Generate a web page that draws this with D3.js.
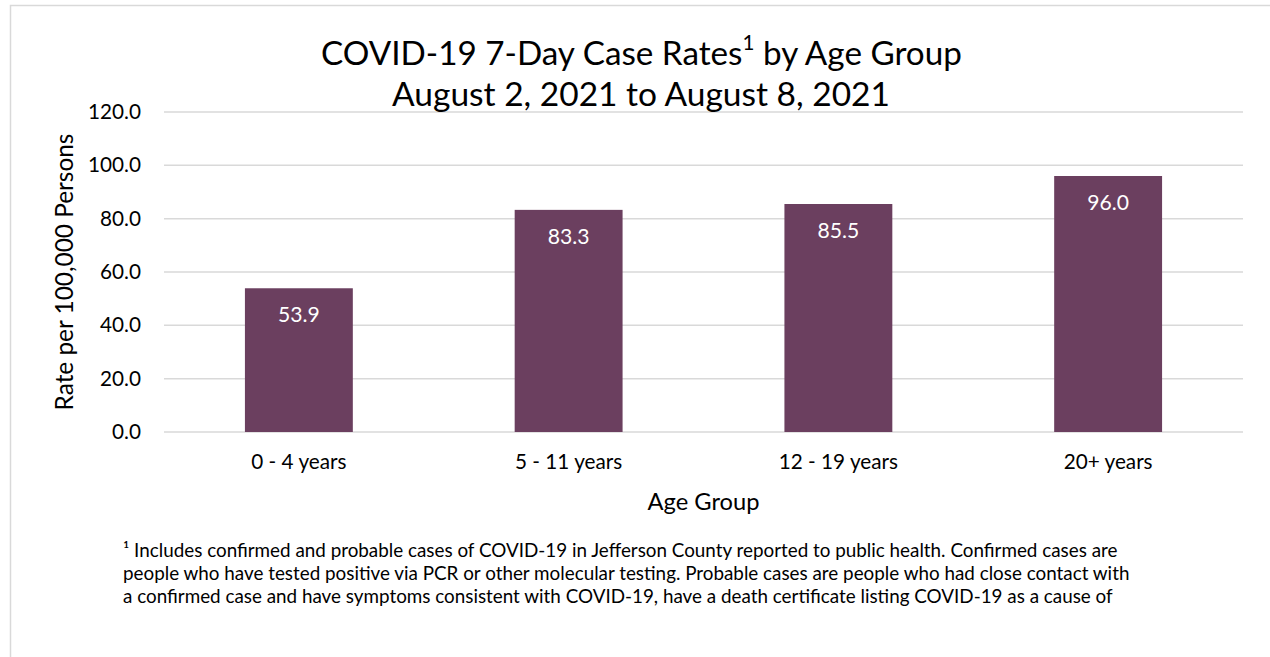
<!DOCTYPE html>
<html>
<head>
<meta charset="utf-8">
<script src="https://cdn.jsdelivr.net/npm/d3@7"></script>
<style>
  html, body { margin: 0; padding: 0; background: #fff; }
  svg { display: block; }
  text { font-family: Lato, "Open Sans", "DejaVu Sans", sans-serif; fill: #000; }
</style>
</head>
<body>
<svg id="chart" width="1270" height="657"></svg>
<script>
// ---- Data ----
const categories = ["0 - 4 years", "5 - 11 years", "12 - 19 years", "20+ years"];
const rates = [53.9, 83.3, 85.5, 96.0];
const yTicks = [0, 20, 40, 60, 80, 100, 120];
const titleLine1 = ["COVID-19 7-Day Case Rates", "1", " by Age Group"];
const titleLine2 = "August 2, 2021 to August 8, 2021";
const yAxisTitle = "Rate per 100,000 Persons";
const xAxisTitle = "Age Group";
const footnoteLines = [
  "\u00B9 Includes confirmed and probable cases of COVID-19 in Jefferson County reported to public health. Confirmed cases are",
  "people who have tested positive via PCR or other molecular testing. Probable cases are people who had close contact with",
  "a confirmed case and have symptoms consistent with COVID-19, have a death certificate listing COVID-19 as a cause of"
];

// ---- Layout ----
const W = 1270, H = 657;
const plot = { left: 164, right: 1243, top: 112, bottom: 432 };
const barColor = "#6B3F5F";
const gridColor = "#D9D9D9";

const svg = d3.select("#chart");

// helper: scale font-size so text reaches target width
function fitWidth(sel, target) {
  const node = sel.node();
  const fs = parseFloat(sel.attr("font-size"));
  const w = node.getComputedTextLength();
  sel.attr("font-size", fs * target / w);
  return fs * target / w;
}

// frame
svg.append("path")
  .attr("d", `M10.5,${H} L10.5,5.5 L${W},5.5`)
  .attr("fill", "none").attr("stroke", gridColor).attr("stroke-width", 1.5);

const x = d3.scaleBand()
  .domain(categories)
  .range([plot.left, plot.right])
  .paddingInner(0.6)
  .paddingOuter(0.3);

const y = d3.scaleLinear()
  .domain([0, 120])
  .range([plot.bottom, plot.top]);

// gridlines
svg.append("g").selectAll("line")
  .data(yTicks)
  .join("line")
  .attr("x1", plot.left).attr("x2", plot.right)
  .attr("y1", d => y(d)).attr("y2", d => y(d))
  .attr("stroke", gridColor).attr("stroke-width", 1.5);

// measure tick font size from "120.0"
const probe = svg.append("text").attr("font-size", 20).text("120.0");
const tickFs = fitWidth(probe, 53);
probe.remove();

// y axis (labels only)
const yAxis = d3.axisLeft(y).tickValues(yTicks).tickFormat(d3.format(".1f")).tickSize(0).tickPadding(23);
const gy = svg.append("g").attr("transform", `translate(${plot.left},0)`).call(yAxis);
gy.select(".domain").remove();
gy.selectAll("text").attr("font-size", tickFs).attr("font-family", null).attr("fill", "#000");

// x axis (labels only)
const xAxis = d3.axisBottom(x).tickSize(0).tickPadding(22);
const gx = svg.append("g").attr("transform", `translate(0,${plot.bottom})`).call(xAxis);
gx.select(".domain").remove();
gx.selectAll("text").attr("font-size", tickFs).attr("font-family", null).attr("fill", "#000");

// bars
svg.append("g").selectAll("rect")
  .data(rates)
  .join("rect")
  .attr("x", (d, i) => x(categories[i]))
  .attr("width", x.bandwidth())
  .attr("y", d => y(d))
  .attr("height", d => y(0) - y(d))
  .attr("fill", barColor);

// data labels
svg.append("g").selectAll("text")
  .data(rates)
  .join("text")
  .attr("x", (d, i) => x(categories[i]) + x.bandwidth() / 2)
  .attr("y", d => y(d) + 34)
  .attr("text-anchor", "middle")
  .attr("font-size", tickFs * 1.02)
  .style("fill", "#fff")
  .text(d => d3.format(".1f")(d));

// title
const t1 = svg.append("text").attr("x", 641.5).attr("y", 65).attr("text-anchor", "middle").attr("font-size", 30);
t1.append("tspan").text(titleLine1[0]);
t1.append("tspan").attr("font-size", "0.62em").attr("dy", "-0.75em").text(titleLine1[1]);
t1.append("tspan").attr("dy", "0.465em").text(titleLine1[2]);
fitWidth(t1, 641);

const t2 = svg.append("text").attr("x", 641).attr("y", 106).attr("text-anchor", "middle")
  .attr("font-size", 30).text(titleLine2);
fitWidth(t2, 498);

// y axis title
const yt = svg.append("text")
  .attr("transform", `translate(73,${(plot.top + plot.bottom) / 2}) rotate(-90)`)
  .attr("text-anchor", "middle").attr("font-size", 20).text(yAxisTitle);
fitWidth(yt, 277);

// x axis title
const xt = svg.append("text")
  .attr("x", (plot.left + plot.right) / 2).attr("y", 510)
  .attr("text-anchor", "middle").attr("font-size", 20).text(xAxisTitle);
fitWidth(xt, 112);

// footnote
const fnSel = svg.append("g").selectAll("text")
  .data(footnoteLines)
  .join("text")
  .attr("x", 123)
  .attr("y", (d, i) => 557 + i * 23)
  .attr("font-size", 16)
  .text(d => d);
const fnFs = fitWidth(d3.select(fnSel.nodes()[1]), 1007);
fnSel.attr("font-size", fnFs);
</script>
</body>
</html>
